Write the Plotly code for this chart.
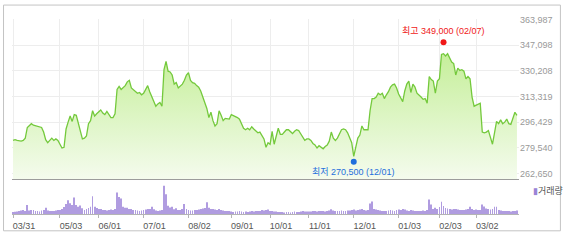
import pandas as pd
import plotly.graph_objects as go

# ---------------- data ----------------
start_date = "2021-03-31"
end_date = "2022-03-31"
krx_holidays = ["2021-05-05", "2021-05-19", "2021-08-16", "2021-09-20", "2021-09-21",
                "2021-09-22", "2021-10-04", "2021-10-11", "2021-12-31", "2022-01-31",
                "2022-02-01", "2022-02-02", "2022-03-01", "2022-03-09"]
dates = pd.bdate_range(start_date, end_date, freq="C",
                       holidays=krx_holidays).strftime("%Y-%m-%d").tolist()

close = [
    284500, 285000, 284500, 284000, 284000, 284500, 286000, 293000, 294000, 295500,
    294500, 294000, 293500, 293500, 293000, 290000, 285000, 283000, 284500, 286000,
    284500, 285500, 284500, 282000, 279500, 280000, 292000, 296500, 300500, 297000,
    301500, 301000, 295500, 292000, 285500, 286000, 287500, 295500, 297500, 304000,
    300500, 302000, 303500, 304500, 302500, 301500, 303500, 301500, 299500, 299500,
    302000, 318000, 320000, 318000, 319000, 320500, 323000, 324000, 319000, 318000,
    316500, 315500, 316000, 314500, 315500, 318000, 320500, 316500, 313000, 310000,
    307000, 308500, 309500, 307000, 331000, 336500, 330000, 329500, 327500, 321500,
    322500, 319000, 320500, 321500, 324000, 327500, 329000, 324000, 322500, 322000,
    320500, 319500, 317000, 313000, 309500, 305500, 299500, 303000, 297500, 294000,
    295500, 304000, 301000, 297500, 299000, 298500, 298500, 301500, 301000, 300000,
    299500, 298500, 295500, 292500, 291500, 292500, 291500, 293500, 292000, 290500,
    289500, 290000, 287500, 285500, 280000, 283000, 282000, 290500, 282000, 286500,
    292500, 288500, 288500, 290000, 291500, 291500, 290000, 289000, 290500, 291500,
    291000, 289000, 286500, 284500, 285500, 285500, 284500, 282500, 281500, 279500,
    281000, 280000, 279000, 280500, 281500, 284000, 290000, 286000, 284500, 286000,
    289000, 291500, 292000, 291500, 289500, 285500, 283000, 274000, 280500, 286000,
    288000, 294000, 291500, 291500, 291500, 304000, 312000, 312000, 313000, 315500,
    314500, 315500, 312000, 314500, 316500, 319500, 321000, 321500, 319000, 315000,
    312000, 310000, 317000, 321500, 323500, 316000, 321500, 319500, 315500, 314500,
    313000, 311500, 312000, 309000, 326500, 324500, 323500, 315500, 323500, 325000,
    341000, 341500, 340000, 341500, 338500, 336000, 335000, 327500, 332000, 330500,
    331000, 330000, 325000, 326500, 325000, 313000, 307000, 307500, 308500, 309000,
    290000, 289500, 290000, 291000, 286500, 282000, 289500, 297000, 295500, 298000,
    295500, 296500, 298500, 295500, 295000, 298500, 303000, 301000,
]

volume = [
    50000, 55000, 62500, 75000, 87500, 100000, 75000, 225000, 87500, 100000,
    100000, 75000, 75000, 62500, 87500, 100000, 157500, 87500, 75000, 75000,
    75000, 87500, 100000,
    100000, 125000, 175000, 250000, 350000, 275000, 225000, 417500, 225000, 182500,
    217500, 142500, 100000, 125000, 150000, 182500, 450000, 182500, 150000,
    125000, 125000, 100000, 100000, 87500, 100000, 112500, 100000, 125000, 542500,
    432500, 392500, 182500, 157500, 157500, 125000, 125000, 100000, 100000, 87500,
    75000, 87500,
    100000, 112500, 125000, 125000, 182500, 117500, 87500, 75000, 87500, 100000,
    717500, 500000, 207500, 167500, 182500, 117500, 142500, 100000, 100000, 125000,
    250000, 125000,
    100000, 87500, 87500, 100000, 100000, 112500, 125000, 137500, 150000, 300000,
    157500, 125000, 125000, 112500, 100000, 125000, 100000, 87500, 75000, 75000,
    75000,
    62500, 50000, 62500, 62500, 75000, 62500, 50000, 62500, 50000, 62500,
    75000, 62500, 75000, 75000, 75000, 100000, 87500, 100000, 112500,
    75000, 75000, 62500, 62500, 50000, 50000, 50000, 37500, 50000, 50000,
    37500, 50000, 62500, 50000, 50000, 62500, 75000, 62500, 62500,
    62500, 62500, 75000, 75000, 62500, 75000, 75000, 75000, 62500, 75000,
    87500, 117500, 87500, 75000, 75000, 75000, 87500, 75000, 75000, 87500,
    87500, 100000,
    112500, 87500, 100000, 112500, 125000, 100000, 87500, 100000, 267500, 317500,
    125000, 112500, 100000, 87500, 75000, 75000, 75000, 87500, 100000, 87500,
    75000, 100000,
    112500, 100000, 125000, 112500, 87500, 75000, 100000, 87500, 75000, 75000,
    75000, 75000, 87500, 75000, 100000, 367500, 242500, 125000, 157500, 125000,
    175000, 307500, 200000, 150000, 137500, 125000, 112500, 125000, 125000, 112500,
    100000, 100000, 100000, 112500, 125000, 182500, 125000, 100000,
    112500, 100000, 100000, 242500, 187500, 137500, 125000, 112500, 125000, 182500,
    182500, 100000, 87500, 75000, 75000, 75000, 75000, 62500, 75000, 75000,
    87500,
]

tick_dates = ["2021-03-31", "2021-05-03", "2021-06-01", "2021-07-01", "2021-08-02",
              "2021-09-01", "2021-10-01", "2021-11-01", "2021-12-01", "2022-01-03",
              "2022-02-03", "2022-03-02"]
tick_labels = ["03/31", "05/03", "06/01", "07/01", "08/02", "09/01", "10/01",
               "11/01", "12/01", "01/03", "02/03", "03/02"]

price_ticks = [262650, 279540, 296429, 313319, 330208, 347098, 363987]
price_range = [258862, 364303]
volume_range = [0, 851000]

high_value, high_date, high_label = 349000, "2022-02-07", "02/07"
low_value, low_date, low_label = 270500, "2021-12-01", "12/01"

assert len(dates) == len(close) == len(volume)

# ---------------- figure ----------------
FONT = "Liberation Sans, Arial, Noto Sans CJK KR, sans-serif"
fig = go.Figure()

fig.add_trace(go.Scatter(
    x=dates, y=close, mode="lines", xaxis="x2", yaxis="y",
    line=dict(color="#74c93c", width=1.3),
    fill="tozeroy",
    fillgradient=dict(type="vertical",
                      colorscale=[[0, "#f7fcf2"], [1, "#c6ef9b"]],
                      start=price_range[0], stop=max(close)),
    hoverinfo="skip", showlegend=False,
))
fig.add_trace(go.Scatter(
    x=[high_date], y=[high_value], mode="markers", xaxis="x2", yaxis="y",
    marker=dict(color="#f01818", size=6), showlegend=False, hoverinfo="skip",
))
fig.add_trace(go.Scatter(
    x=[low_date], y=[low_value], mode="markers", xaxis="x2", yaxis="y",
    marker=dict(color="#1f6fdc", size=6), showlegend=False, hoverinfo="skip",
))
fig.add_trace(go.Bar(
    x=dates, y=volume, xaxis="x", yaxis="y2",
    marker=dict(color="#b09ce0", line=dict(width=0)),
    showlegend=False, hoverinfo="skip",
))

L, R, T, B = 12, 45, 19, 21
W, H = 565, 243
pw, ph = W - L - R, H - T - B


def px_x(p):
    return (p - L) / pw


def px_y(p):
    return (H - B - p) / ph


xrange = [-0.5, len(dates)]

fig.update_layout(
    width=W, height=H,
    margin=dict(l=L, r=R, t=T, b=B, pad=0),
    paper_bgcolor="white", plot_bgcolor="white",
    font=dict(family=FONT, size=9, color="#555"),
    bargap=0.6,
    xaxis=dict(domain=[0, 1], anchor="y2", type="category", range=xrange,
               tickvals=tick_dates, ticktext=tick_labels, showgrid=False,
               showline=True, linecolor="#b4b4b4", linewidth=1,
               ticks="outside", ticklen=3, tickcolor="#b4b4b4",
               tickfont=dict(size=9, color="#555"), ticklabelshift=11,
               zeroline=False, fixedrange=True),
    xaxis2=dict(domain=[0, 1], anchor="y", type="category", range=xrange,
                tickvals=tick_dates, showticklabels=False, showgrid=True,
                gridcolor="#ededed", gridwidth=1, showline=True,
                linecolor="#9c9c9c", linewidth=1, ticks="", zeroline=False),
    yaxis=dict(domain=[px_y(186), 1], range=price_range, side="right",
               tickvals=price_ticks, ticktext=[f"{v:,}" for v in price_ticks],
               showgrid=True, gridcolor="#ededed", gridwidth=1, zeroline=False,
               showline=False, ticks="", tickfont=dict(size=9, color="#999")),
    yaxis2=dict(domain=[0, px_y(187)], range=volume_range, showticklabels=False,
                showgrid=False, zeroline=False, showline=False),
    shapes=[dict(type="rect", xref="paper", yref="paper",
                 x0=px_x(3.5), x1=px_x(561.5), y0=px_y(239.5), y1=px_y(4.5),
                 line=dict(color="#c4c4c4", width=1), fillcolor="rgba(0,0,0,0)")],
    annotations=[
        dict(x=high_date, y=high_value, xref="x2", yref="y", showarrow=False,
             text=f"최고 {high_value:,} ({high_label})", yshift=11,
             font=dict(size=9, color="#f01818")),
        dict(x=low_date, y=low_value, xref="x2", yref="y", showarrow=False,
             text=f"최저 {low_value:,} ({low_label})", yshift=-10,
             font=dict(size=9, color="#1f6fdc")),
        dict(x=px_x(532), y=px_y(198), xref="paper", yref="paper",
             xanchor="left", yanchor="middle", showarrow=False,
             text="<span style='color:#9a84d6'>▮</span>거래량",
             font=dict(size=9, color="#555")),
    ],
)

fig.write_html("out.html")
